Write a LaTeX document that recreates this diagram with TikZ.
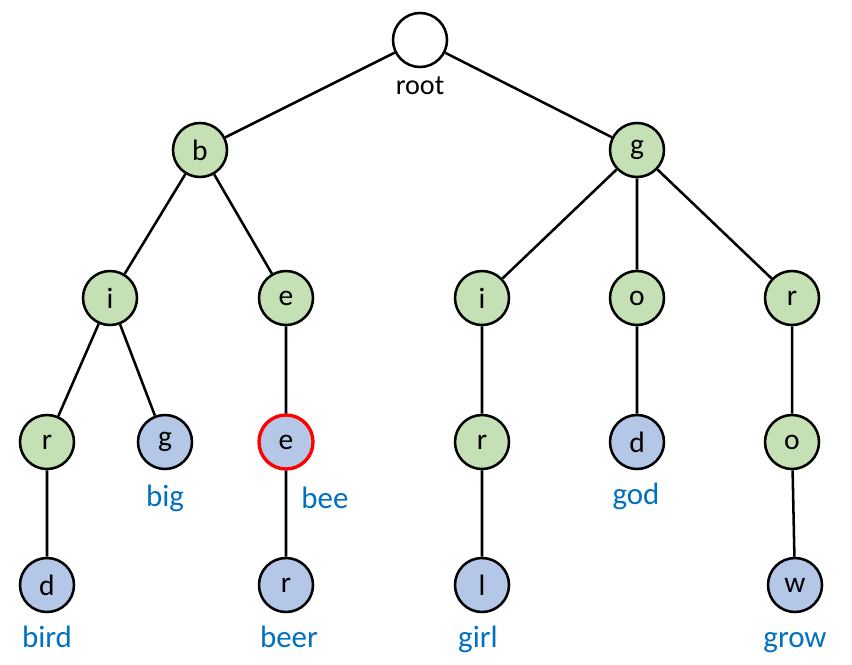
\documentclass[tikz,border=0pt]{standalone}
\usepackage{fontspec}
\setmainfont{Carlito}
\usepackage{xcolor}
\usetikzlibrary{positioning}
\definecolor{leafgreen}{HTML}{C5E0B4}
\definecolor{leafblue}{HTML}{B4C7E7}
\definecolor{wordblue}{HTML}{0070C0}
\tikzset{
    trienode/.style={
        circle,
        draw=black, line width=1.8pt,
        minimum size=1.35cm,
        inner sep=0pt,
        font={\fontsize{21pt}{23}\selectfont}
    },
    inner/.style={trienode, fill=leafgreen},
    final/.style={trienode, fill=leafblue},
    marked/.style={final, draw=red, line width=2.4pt},
    word/.style={text=wordblue, inner sep=1pt, text height=1.6ex, text depth=0.5ex,
        font={\fontsize{22pt}{24}\selectfont}},
    branch/.style={draw, line width=1.8pt},
}

\begin{document}
\begin{tikzpicture}[x=0.025cm, y=-0.025cm]
    \useasboundingbox (0,0) rectangle (852,664);
    % levels
    \node[trienode, fill=white] (root) at (420,40) {};
    \node[inner] (b) at (200,150) {b};
    \node[inner] (g) at (637,150) {g};
    \node[inner] (bi) at (110,298) {i};
    \node[inner] (be) at (286,298) {e};
    \node[inner] (gi) at (482,298) {i};
    \node[inner] (go) at (637,298) {o};
    \node[inner] (gr) at (792,298) {r};
    \node[inner] (bir) at (47,442) {r};
    \node[final] (big) at (165,442) {g};
    \node[marked] (bee) at (286,442) {e};
    \node[inner] (gir) at (482,442) {r};
    \node[final] (god) at (637,442) {d};
    \node[inner] (gro) at (792,442) {o};
    \node[final] (bird) at (47,585) {d};
    \node[final] (beer) at (286,585) {r};
    \node[final] (girl) at (482,585) {l};
    \node[final] (grow) at (795,585) {w};
    % edges
    \path[branch] (root) -- (b) (root) -- (g)
        (b) -- (bi) (b) -- (be)
        (g) -- (gi) (g) -- (go) (g) -- (gr)
        (bi) -- (bir) (bi) -- (big) (be) -- (bee)
        (gi) -- (gir) (go) -- (god) (gr) -- (gro)
        (bir) -- (bird) (bee) -- (beer) (gir) -- (girl) (gro) -- (grow);
    % words
    \node[font={\fontsize{20pt}{22}\selectfont}, inner sep=1pt] (lroot) at (420,86) {root};
    \node[word] (lbig) at (165,503) {big};
    \node[word] (lbee) at (325,505) {bee};
    \node[word] (lgod) at (636,501) {god};
    \node[word] (lbird) at (47,644) {bird};
    \node[word] (lbeer) at (289,644) {beer};
    \node[word] (lgirl) at (478,644) {girl};
    \node[word] (lgrow) at (795,644) {grow};
\end{tikzpicture}
\end{document}
